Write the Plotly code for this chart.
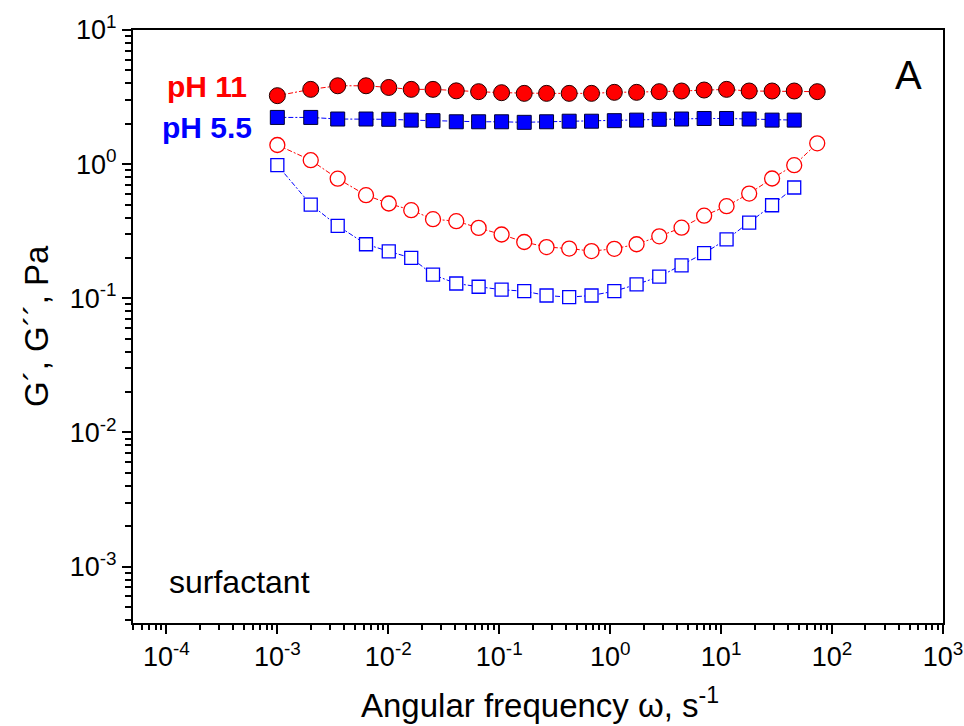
import plotly.graph_objects as go

# Angular frequency (rad/s)
omega_ph11 = [0.001, 0.002, 0.0035, 0.0063, 0.0101, 0.0161, 0.0253, 0.041, 0.0652, 0.105,
              0.168, 0.267, 0.427, 0.679, 1.09, 1.73, 2.77, 4.4, 7.03, 11.2, 17.9, 28.8, 45.6, 73.5]
omega_ph55 = omega_ph11[:23]

# pH 11 (red)
g1_ph11 = [3.24, 3.61, 3.84, 3.84, 3.73, 3.61, 3.61, 3.52, 3.47, 3.41, 3.37, 3.37,
           3.37, 3.37, 3.43, 3.43, 3.47, 3.51, 3.57, 3.61, 3.51, 3.51, 3.51, 3.47]
g2_ph11 = [1.39, 1.07, 0.78, 0.587, 0.509, 0.454, 0.389, 0.376, 0.335, 0.299, 0.263, 0.241,
           0.235, 0.225, 0.234, 0.253, 0.290, 0.336, 0.413, 0.486, 0.604, 0.782, 0.983, 1.43]

# pH 5.5 (blue)
g1_ph55 = [2.23, 2.23, 2.17, 2.17, 2.16, 2.13, 2.11, 2.07, 2.07, 2.07, 2.05, 2.07,
           2.09, 2.09, 2.11, 2.13, 2.16, 2.17, 2.19, 2.19, 2.17, 2.13, 2.13]
g2_ph55 = [0.983, 0.500, 0.347, 0.253, 0.224, 0.200, 0.150, 0.129, 0.122, 0.116, 0.113, 0.105,
           0.102, 0.105, 0.113, 0.127, 0.145, 0.176, 0.217, 0.275, 0.367, 0.494, 0.670]

x_tick_exps = [-4, -3, -2, -1, 0, 1, 2, 3]
y_tick_exps = [-3, -2, -1, 0, 1]

FONT = "Arial, Liberation Sans, sans-serif"
RED = "#ff0000"
BLUE = "#0000ff"
DASH = "5px,2px,2px,2px"

fig = go.Figure()

fig.add_trace(go.Scatter(
    x=omega_ph11, y=g2_ph11, mode="lines+markers",
    line=dict(color=RED, width=1, dash=DASH),
    marker=dict(symbol="circle", size=15, color="white", line=dict(color=RED, width=1.3)),
    showlegend=False))
fig.add_trace(go.Scatter(
    x=omega_ph55, y=g2_ph55, mode="lines+markers",
    line=dict(color=BLUE, width=1, dash=DASH),
    marker=dict(symbol="square", size=13, color="white", line=dict(color=BLUE, width=1.3)),
    showlegend=False))
fig.add_trace(go.Scatter(
    x=omega_ph55, y=g1_ph55, mode="lines+markers",
    line=dict(color=BLUE, width=1, dash=DASH),
    marker=dict(symbol="square", size=14, color=BLUE, line=dict(color="#000033", width=1)),
    showlegend=False))
fig.add_trace(go.Scatter(
    x=omega_ph11, y=g1_ph11, mode="lines+markers",
    line=dict(color=RED, width=1, dash=DASH),
    marker=dict(symbol="circle", size=16, color=RED, line=dict(color="#220000", width=1)),
    showlegend=False))

x_minor = [k * 10.0 ** e for e in range(-5, 3) for k in range(2, 10)]
y_minor = [k * 10.0 ** e for e in range(-4, 1) for k in range(2, 10)]

axis_common = dict(
    showgrid=False, zeroline=False, showline=True, linecolor="black", linewidth=2,
    mirror=True, ticks="outside", tickcolor="black", tickwidth=2, ticklen=9,
    tickfont=dict(family=FONT, size=27, color="black"),
    ticklabeloverflow="allow", automargin=False,
)

fig.update_xaxes(
    type="log", range=[-4.301, 3.0],
    tickmode="array", tickvals=[10.0 ** e for e in x_tick_exps],
    ticktext=[f"10<sup>{e}</sup>" for e in x_tick_exps],
    minor=dict(tickmode="array", tickvals=x_minor, ticks="outside", ticklen=5,
               tickwidth=1.5, tickcolor="black", showgrid=False),
    **axis_common)
fig.update_yaxes(
    type="log", range=[-3.42, 1.0],
    tickmode="array", tickvals=[10.0 ** e for e in y_tick_exps],
    ticktext=[f"10<sup>{e}</sup>" for e in y_tick_exps],
    minor=dict(tickmode="array", tickvals=y_minor, ticks="outside", ticklen=6,
               tickwidth=1.5, tickcolor="black", showgrid=False),
    **axis_common)

W, H = 964, 726
L, R, T, B = 133, 21, 30, 103
pw, ph = W - L - R, H - T - B

def px(xp):
    return (xp - L) / pw

def py(yp):
    return (H - B - yp) / ph

annotations = [
    dict(text="<b>pH 11</b>", x=px(207), y=py(87), font=dict(family=FONT, size=30, color=RED)),
    dict(text="<b>pH 5.5</b>", x=px(207), y=py(127), font=dict(family=FONT, size=30, color=BLUE)),
    dict(text="A", x=px(908), y=py(75), font=dict(family=FONT, size=40, color="black")),
    dict(text="surfactant", x=px(239), y=py(582), font=dict(family=FONT, size=32, color="black")),
    dict(text="Angular frequency ω, s<sup>-1</sup>", x=px(540), y=py(703),
         font=dict(family=FONT, size=33, color="black")),
    dict(text="G´, G´´, Pa", x=px(36), y=py(326), textangle=-90,
         font=dict(family=FONT, size=33, color="black")),
]
for a in annotations:
    a.update(xref="paper", yref="paper", showarrow=False, xanchor="center", yanchor="middle")

fig.update_layout(
    width=W, height=H,
    margin=dict(l=L, r=R, t=T, b=B, pad=0, autoexpand=False),
    paper_bgcolor="white", plot_bgcolor="white",
    font=dict(family=FONT, color="black"),
    annotations=annotations,
    showlegend=False,
)

fig.write_html("out.html", config={"displayModeBar": False},
               post_script="document.body.style.margin='0';document.body.style.padding='0';")
